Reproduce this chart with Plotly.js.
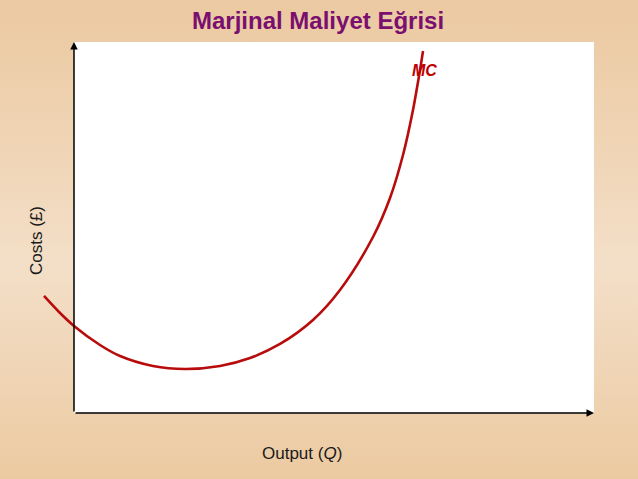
<!DOCTYPE html>
<html>
<head>
<meta charset="utf-8">
<script src="https://cdn.plot.ly/plotly-3.0.1.min.js"></script>
<style>
html, body { margin: 0; padding: 0; width: 638px; height: 479px; overflow: hidden; }
body { background: linear-gradient(to bottom, #EBC9A1 0%, #F0D6B8 35%, #F3DFC8 55%, #F0D6B8 75%, #ECCAA1 100%); }
#chart { width: 638px; height: 479px; }
</style>
</head>
<body>
<div id="chart"></div>
<script>
// Output (Q) and marginal cost values (arbitrary units, axis 0..100)
const qValues = [-5.77, -2.88, 0.0, 5.0, 8.85, 15.19, 21.35, 28.08, 33.85, 39.62, 45.96, 51.15, 57.5, 60.77, 63.27, 65.19, 66.54, 67.12];
const costValues = [31.54, 27.22, 23.45, 18.33, 15.36, 12.67, 11.86, 12.67, 14.82, 18.6, 25.07, 33.15, 47.44, 57.95, 69.54, 81.67, 92.45, 97.57];
const curveLabel = "MC";
const titleText = "Marjinal Maliyet Eğrisi";
const xTitle = "Output (<i>Q</i>)";
const yTitle = "Costs (£)";

const trace = {
  x: qValues, y: costValues, type: "scatter", mode: "lines",
  line: { color: "#B80C0C", width: 2.6, shape: "spline", smoothing: 0.9 },
  hoverinfo: "skip", showlegend: false
};

const layout = {
  width: 638, height: 479,
  margin: { l: 22, r: 44, t: 42, b: 66 },
  paper_bgcolor: "rgba(0,0,0,0)",
  plot_bgcolor: "rgba(0,0,0,0)",
  xaxis: { range: [-10, 100], showgrid: false, zeroline: false, showline: false, showticklabels: false, ticks: "", fixedrange: true },
  yaxis: { range: [0, 100], showgrid: false, zeroline: false, showline: false, showticklabels: false, ticks: "", fixedrange: true },
  shapes: [
    { type: "rect", xref: "x", yref: "y", x0: 0, x1: 100, y0: 0, y1: 100, fillcolor: "#FFFFFF", line: { width: 0 }, layer: "below" }
  ],
  annotations: [
    { xref: "paper", yref: "paper", x: (318 - 22) / 572, y: 1 + (42 - 20) / 371, xanchor: "center", yanchor: "middle",
      text: "<b>" + titleText + "</b>", showarrow: false,
      font: { family: "Liberation Sans, Arial, sans-serif", size: 24, color: "#7A0F70" } },
    // y axis arrow
    { xref: "x", yref: "y", axref: "x", ayref: "y", x: 0, y: 100, ax: 0, ay: 0, text: "", showarrow: true,
      arrowhead: 2, arrowsize: 1, arrowwidth: 1.5, arrowcolor: "#000000" },
    // x axis arrow
    { xref: "x", yref: "y", axref: "x", ayref: "y", x: 100, y: 0, ax: 0, ay: 0, text: "", showarrow: true,
      arrowhead: 2, arrowsize: 1, arrowwidth: 1.5, arrowcolor: "#000000" },
    { xref: "x", yref: "y", x: 67.4, y: 92.2, text: "<b><i>" + curveLabel + "</i></b>", showarrow: false,
      xanchor: "center", yanchor: "middle",
      font: { family: "Liberation Sans, Arial, sans-serif", size: 16, color: "#C00000" } },
    { xref: "paper", yref: "paper", x: (302 - 22) / 572, y: -(453 - 413) / 371, text: xTitle, showarrow: false,
      xanchor: "center", yanchor: "middle",
      font: { family: "Liberation Sans, Arial, sans-serif", size: 17, color: "#1a1a1a" } },
    { xref: "paper", yref: "paper", x: (36 - 22) / 572, y: (413 - 241) / 371, text: yTitle, showarrow: false,
      textangle: -90, xanchor: "center", yanchor: "middle",
      font: { family: "Liberation Sans, Arial, sans-serif", size: 17, color: "#1a1a1a" } }
  ]
};

Plotly.newPlot("chart", [trace], layout, { displayModeBar: false, staticPlot: true });
</script>
</body>
</html>
